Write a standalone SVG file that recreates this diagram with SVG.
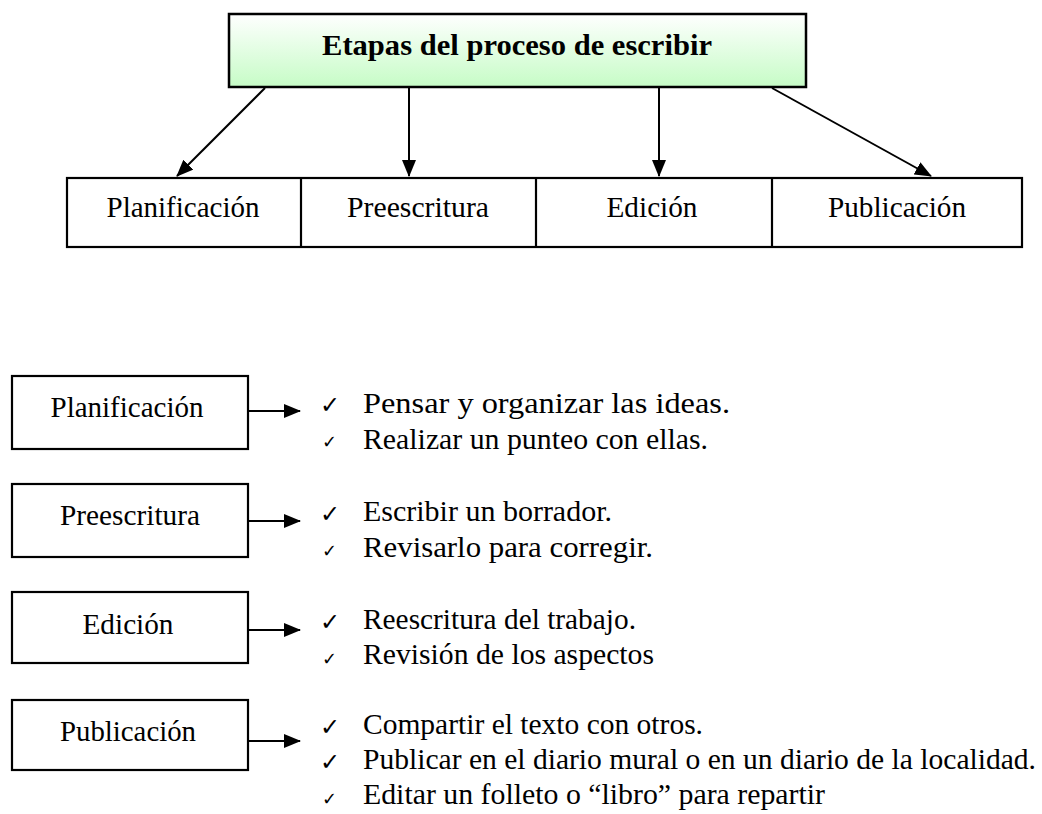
<svg xmlns="http://www.w3.org/2000/svg" width="1042" height="814" viewBox="0 0 1042 814">
<style>
.box{fill:#fff;stroke:#000;stroke-width:2.2}
.t{font-family:"Liberation Serif","Times New Roman",serif;font-size:29px;fill:#000}
.c{text-anchor:middle}
.ck{font-family:"DejaVu Sans",sans-serif;fill:#000}
.big{font-size:24px}
.sm{font-size:18px}
.ln{stroke:#000;stroke-width:2;fill:none;marker-end:url(#ah)}
</style>
<defs>
<linearGradient id="g" x1="0" y1="0" x2="0" y2="1">
<stop offset="0" stop-color="#ffffff"/>
<stop offset="1" stop-color="#c6fcc6"/>
</linearGradient>
<marker id="ah" markerWidth="8.5" markerHeight="7" refX="8" refY="3.5" orient="auto" markerUnits="strokeWidth">
<path d="M0,0 L8.5,3.5 L0,7 Z" fill="#000"/>
</marker>
</defs>
<rect width="1042" height="814" fill="#fff"/>

<g id="title">
<rect x="229" y="14" width="577" height="73" fill="url(#g)" stroke="#000" stroke-width="2.5"/>
<text class="t c" x="517" y="55" font-weight="bold" textLength="390" lengthAdjust="spacingAndGlyphs">Etapas del proceso de escribir</text>
</g>

<g id="row">
<rect class="box" x="67" y="178" width="955" height="69"/>
<line x1="301" y1="178" x2="301" y2="247" stroke="#000" stroke-width="2.2"/>
<line x1="536" y1="178" x2="536" y2="247" stroke="#000" stroke-width="2.2"/>
<line x1="772" y1="178" x2="772" y2="247" stroke="#000" stroke-width="2.2"/>
</g>
<g id="top-planificacion"><text class="t c" x="183" y="217" textLength="153" lengthAdjust="spacingAndGlyphs">Planificación</text></g>
<g id="top-preescritura"><text class="t c" x="418" y="217" textLength="142" lengthAdjust="spacingAndGlyphs">Preescritura</text></g>
<g id="top-edicion"><text class="t c" x="652" y="217" textLength="91" lengthAdjust="spacingAndGlyphs">Edición</text></g>
<g id="top-publicacion"><text class="t c" x="897" y="217" textLength="138" lengthAdjust="spacingAndGlyphs">Publicación</text></g>

<g id="connectors">
<line class="ln" x1="265" y1="88" x2="177" y2="176"/>
<line class="ln" x1="409" y1="88" x2="409" y2="176"/>
<line class="ln" x1="659" y1="88" x2="659" y2="176"/>
<line class="ln" x1="772" y1="88" x2="931" y2="176"/>
<line class="ln" x1="248" y1="411" x2="300" y2="411"/>
<line class="ln" x1="248" y1="521" x2="300" y2="521"/>
<line class="ln" x1="248" y1="630" x2="300" y2="630"/>
<line class="ln" x1="248" y1="741" x2="300" y2="741"/>
</g>

<g id="planificacion">
<rect class="box" x="12" y="376" width="236" height="73"/>
<text class="t c" x="127" y="417" textLength="153" lengthAdjust="spacingAndGlyphs">Planificación</text>
<text class="ck big" x="320" y="413">✓</text>
<text class="t" x="363" y="413" textLength="367" lengthAdjust="spacingAndGlyphs">Pensar y organizar las ideas.</text>
<text class="ck sm" x="322" y="448">✓</text>
<text class="t" x="363" y="449" textLength="345" lengthAdjust="spacingAndGlyphs">Realizar un punteo con ellas.</text>
</g>

<g id="preescritura">
<rect class="box" x="12" y="484" width="236" height="73"/>
<text class="t c" x="130" y="525" textLength="140" lengthAdjust="spacingAndGlyphs">Preescritura</text>
<text class="ck big" x="320" y="522">✓</text>
<text class="t" x="363" y="521" textLength="249" lengthAdjust="spacingAndGlyphs">Escribir un borrador.</text>
<text class="ck sm" x="322" y="557">✓</text>
<text class="t" x="363" y="557" textLength="290" lengthAdjust="spacingAndGlyphs">Revisarlo para corregir.</text>
</g>

<g id="edicion">
<rect class="box" x="12" y="592" width="236" height="71"/>
<text class="t c" x="128" y="634" textLength="91" lengthAdjust="spacingAndGlyphs">Edición</text>
<text class="ck big" x="320" y="630">✓</text>
<text class="t" x="363" y="629" textLength="273" lengthAdjust="spacingAndGlyphs">Reescritura del trabajo.</text>
<text class="ck sm" x="322" y="665">✓</text>
<text class="t" x="363" y="664" textLength="291" lengthAdjust="spacingAndGlyphs">Revisión de los aspectos</text>
</g>

<g id="publicacion">
<rect class="box" x="12" y="700" width="236" height="70"/>
<text class="t c" x="128" y="741" textLength="136" lengthAdjust="spacingAndGlyphs">Publicación</text>
<text class="ck big" x="320" y="735">✓</text>
<text class="t" x="363" y="734" textLength="340" lengthAdjust="spacingAndGlyphs">Compartir el texto con otros.</text>
<text class="ck big" x="320" y="770">✓</text>
<text class="t" x="363" y="769" textLength="673" lengthAdjust="spacingAndGlyphs">Publicar en el diario mural o en un diario de la localidad.</text>
<text class="ck sm" x="322" y="805">✓</text>
<text class="t" x="363" y="804" textLength="462" lengthAdjust="spacingAndGlyphs">Editar un folleto o “libro” para repartir</text>
</g>
</svg>
